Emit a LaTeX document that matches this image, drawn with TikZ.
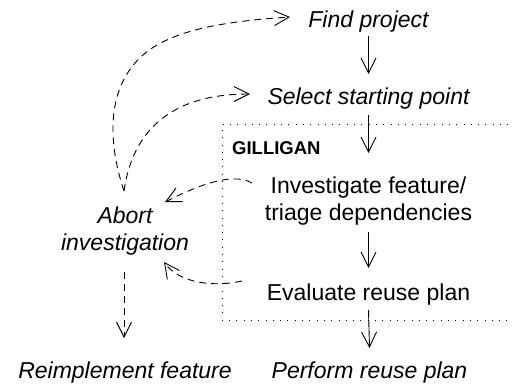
\documentclass[tikz,border=0pt]{standalone}
\usepackage{fontspec}
\setmainfont{Liberation Sans}
\usetikzlibrary{arrows.meta}
\tikzset{
  lbl/.style={inner sep=0pt, outer sep=0pt, font=\fontsize{23}{27}\selectfont, align=center},
  ital/.style={inner sep=0pt, outer sep=0pt, font=\fontsize{23}{27}\selectfont\itshape, align=center},
  flow/.style={line width=0.9pt, -{Straight Barb[length=15pt,width=15pt]}},
  alt/.style={flow, dash pattern=on 7pt off 5pt},
  frame/.style={line width=1pt, dash pattern=on 0.8pt off 6.5pt}
}
\begin{document}
\begin{tikzpicture}[x=1pt,y=-1pt]
\useasboundingbox (0,0) rectangle (513,383);
% group frame
\draw[frame] (530,124) -- (222,124) -- (222,320) -- (530,320);
\node[anchor=base west, inner sep=0pt, font=\fontsize{18.5}{21}\selectfont\bfseries] (gilligan) at (232,154) {GILLIGAN};
% nodes
\node[ital, anchor=base] (find) at (368.5,27) {Find project};
\node[ital, anchor=base] (select) at (368.5,104) {Select starting point};
\node[lbl] (invest) at (368.5,201.5) {Investigate feature/\\triage dependencies};
\node[lbl, anchor=base] (evaluate) at (368.5,300) {Evaluate reuse plan};
\node[ital, anchor=base] (perform) at (369.5,378) {Perform reuse plan};
\node[ital] (abort) at (125,231) {Abort\\investigation};
\node[ital, anchor=base] (reimpl) at (125,378) {Reimplement feature};
% main flow
\draw[flow] ([yshift=-9pt]find.base) -- ([yshift=30pt]select.base);
\draw[flow] ([yshift=-11pt]select.base) -- ([yshift=48.5pt]invest.center);
\draw[flow] ([yshift=-30.5pt]invest.center) -- ([yshift=32pt]evaluate.base);
\draw[flow] ([yshift=-10pt]evaluate.base) -- ([yshift=30pt]perform.base);
% alternative flows
\draw[alt] ([xshift=-1pt,yshift=-41pt]abort.center) -- ([xshift=-1pt,yshift=40pt]reimpl.base);
\draw[alt] ([xshift=-1pt,yshift=40pt]abort.center) .. controls (108,143) and (105.5,88) .. (143,55)
  .. controls (173,28.6) and (230,21) .. ([xshift=-78.5pt,yshift=10pt]find.base);
\draw[alt] ([xshift=-1pt,yshift=40pt]abort.center) .. controls (132.4,131.6) and (170,94) .. ([xshift=-118.5pt,yshift=10pt]select.base);
\draw[alt] ([xshift=-116.5pt,yshift=18.5pt]invest.center) .. controls (230,170) and (187,191) .. ([xshift=40pt,yshift=29pt]abort.center);
\draw[alt] ([xshift=-126.5pt,yshift=19pt]evaluate.base) .. controls (215,287) and (180,284) .. ([xshift=39pt,yshift=-31pt]abort.center);
\end{tikzpicture}
\end{document}
